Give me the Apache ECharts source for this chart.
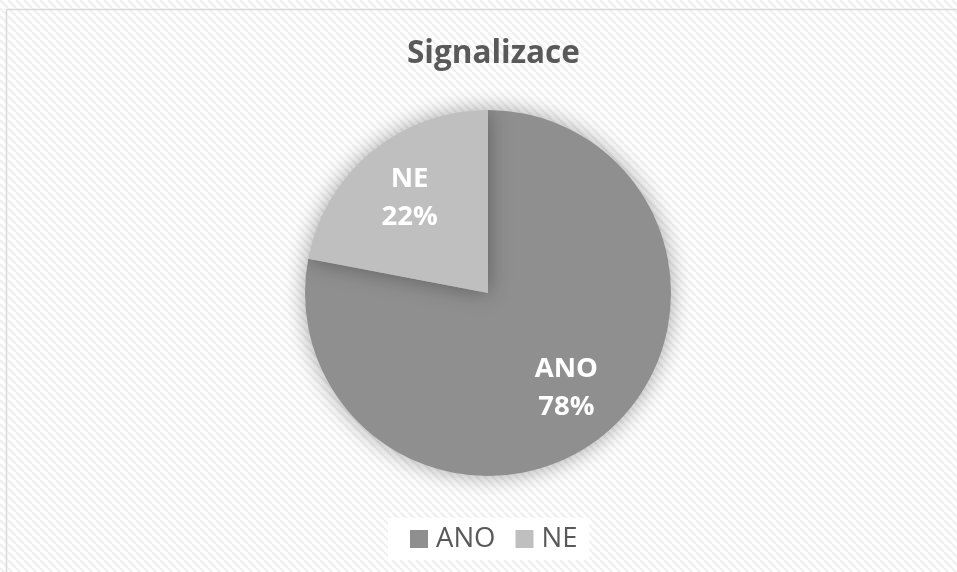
<!DOCTYPE html>
<html>
<head>
<meta charset="utf-8">
<script src="https://cdn.jsdelivr.net/npm/echarts@6/dist/echarts.min.js"></script>
<style>
  html, body { margin: 0; padding: 0; background: #fff; }
  #chart { width: 957px; height: 572px; }
</style>
</head>
<body>
<div id="chart"></div>
<script>
let categories = ['ANO', 'NE']
let values = [78, 22]
let colors = ['#8f8f8f', '#bfbfbf']

// diagonal stripe pattern like the excel chart area fill
function stripes() {
  let c = document.createElement('canvas')
  c.width = 8
  c.height = 8
  let ctx = c.getContext('2d')
  ctx.fillStyle = '#ffffff'
  ctx.fillRect(0, 0, 8, 8)
  ctx.strokeStyle = '#f0f0f0'
  ctx.lineWidth = 2.5
  for (let k = -8; k <= 16; k += 8) {
    ctx.beginPath()
    ctx.moveTo(k, 0)
    ctx.lineTo(k + 8, 8)
    ctx.stroke()
  }
  return c
}

let chart = echarts.init(document.getElementById('chart'))
let font = 'Open Sans'
let pieData = categories.map((name, i) => {
  return { name: name, value: values[i], itemStyle: { color: colors[i] } }
})

let option = {
  backgroundColor: { image: stripes(), repeat: 'repeat' },
  animation: false,
  title: {
    text: 'Signalizace',
    left: 402,
    top: 33,
    textStyle: { fontFamily: font, fontWeight: 'bold', fontSize: 31.5, color: '#595959' }
  },
  graphic: [
    {
      type: 'rect',
      shape: { x: 6.5, y: 9.5, width: 1000, height: 600 },
      style: { fill: 'none', stroke: '#d9d9d9', lineWidth: 1.5 },
      silent: true
    }
  ],
  legend: {
    data: categories,
    bottom: 12,
    left: 388,
    icon: 'rect',
    itemWidth: 18,
    itemHeight: 18,
    itemGap: 20,
    padding: [7, 12, 7, 22],
    backgroundColor: '#ffffff',
    textStyle: { fontFamily: font, fontSize: 27.5, color: '#595959', padding: [0, 0, 0, 3] }
  },
  series: [
    {
      type: 'pie',
      center: [488, 293],
      radius: [0, 183],
      startAngle: 90,
      clockwise: true,
      silent: true,
      label: { show: false },
      labelLine: { show: false },
      itemStyle: { shadowBlur: 22, shadowColor: 'rgba(0,0,0,0.35)' },
      data: pieData
    },
    {
      // invisible ring only to place labels further out than half radius
      type: 'pie',
      center: [488, 293],
      radius: [57, 183],
      startAngle: 90,
      clockwise: true,
      silent: true,
      itemStyle: { color: 'transparent' },
      label: {
        show: true,
        position: 'inside',
        formatter: '{b}\n{d}%',
        color: '#ffffff',
        fontFamily: font,
        fontWeight: 'bold',
        fontSize: 27.5,
        lineHeight: 38
      },
      labelLine: { show: false },
      data: categories.map((name, i) => ({ name: name, value: values[i] }))
    }
  ]
}
chart.setOption(option)
</script>
</body>
</html>
